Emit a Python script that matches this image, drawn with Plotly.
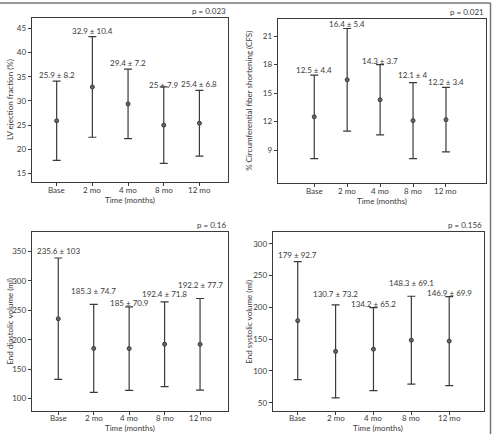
import plotly.graph_objects as go

categories = ["Base", "2 mo", "4 mo", "8 mo", "12 mo"]

lvef_mean = [25.9, 32.9, 29.4, 25.0, 25.4]
lvef_sd = [8.2, 10.4, 7.2, 7.9, 6.8]

cfs_mean = [12.5, 16.4, 14.3, 12.1, 12.2]
cfs_sd = [4.4, 5.4, 3.7, 4.0, 3.4]

edv_mean = [235.6, 185.3, 185.0, 192.4, 192.2]
edv_sd = [103.0, 74.7, 70.9, 71.8, 77.7]

esv_mean = [179.0, 130.7, 134.2, 148.3, 146.9]
esv_sd = [92.7, 73.2, 65.2, 69.1, 69.9]

p_values = ["p = 0.023", "p = 0.021", "p = 0.16", "p = 0.156"]
y_titles = ["LV ejection fraction (%)", "% Circumferential fiber shortening (CFS)",
            "End diastolic volume (ml)", "End systolic volume (ml)"]
x_title = "Time (months)"

W, H = 492, 434

panels = [
    dict(mean=lvef_mean, sd=lvef_sd, xd=[0.0644, 0.4634], yd=[0.5813, 0.9578],
         xr=[-0.70, 4.80], yr=[13.3, 47.1], ticks=[15, 20, 25, 30, 35, 40, 45],
         shift=[6, 6, 6, 2, 6], tl_shift=-8.5, xt_shift=-18, ytx=10),
    dict(mean=cfs_mean, sd=cfs_sd, xd=[0.5644, 0.9868], yd=[0.579, 0.9562],
         xr=[-1.11, 5.2], yr=[5.56, 22.8], ticks=[9, 12, 15, 18, 21],
         shift=[5, 5, 4, 8, 5], tl_shift=-8.5, xt_shift=-18, ytx=249),
    dict(mean=edv_mean, sd=edv_sd, xd=[0.0644, 0.4628], yd=[0.0523, 0.4654],
         xr=[-0.75, 4.78], yr=[78.6, 382.7], ticks=[100, 150, 200, 250, 300, 350],
         shift=[7, 13, 4, 8, 14], tl_shift=-7, xt_shift=-16.5, ytx=10),
    dict(mean=esv_mean, sd=esv_sd, xd=[0.5543, 0.9831], yd=[0.0523, 0.4654],
         xr=[-0.66, 4.91], yr=[36.5, 318.4], ticks=[50, 100, 150, 200, 250, 300],
         shift=[7, 11, 4, 13, 4], tl_shift=-7, xt_shift=-16.5, ytx=249),
]

FONT = "Lato"
INK = "#3a3a3a"
xs = list(range(len(categories)))

fig = go.Figure()
annotations = []
layout = dict(
    width=W, height=H, margin=dict(l=0, r=0, t=0, b=0),
    paper_bgcolor="white", plot_bgcolor="white", showlegend=False,
    font=dict(family=FONT, size=8, color=INK),
)

for k, p in enumerate(panels):
    n = "" if k == 0 else str(k + 1)
    fig.add_trace(go.Scatter(
        x=xs, y=p["mean"], mode="markers",
        marker=dict(size=4, color="#666666", line=dict(color=INK, width=1)),
        error_y=dict(type="data", array=p["sd"], visible=True, color=INK,
                     thickness=1.2, width=4),
        xaxis="x" + n, yaxis="y" + n, cliponaxis=False,
    ))
    layout["xaxis" + n] = dict(
        domain=p["xd"], range=p["xr"], anchor="y" + n,
        tickvals=xs, ticks="outside", ticklen=3, showticklabels=False,
        tickcolor=INK, showline=True, linecolor=INK, linewidth=1, mirror=True,
        showgrid=False, zeroline=False,
    )
    layout["yaxis" + n] = dict(
        domain=p["yd"], range=p["yr"], anchor="x" + n,
        tickvals=p["ticks"], ticks="outside", ticklen=3, tickcolor=INK,
        showline=True, linecolor=INK, linewidth=1, mirror=True,
        showgrid=False, zeroline=False, tickfont=dict(size=8),
    )
    for i in xs:
        annotations.append(dict(
            x=i, y=p["mean"][i] + p["sd"][i], xref="x" + n, yref="y" + n,
            text=f"{p['mean'][i]:g} ± {p['sd'][i]:g}", showarrow=False,
            yanchor="middle", xanchor="center", yshift=p["shift"][i],
            font=dict(size=8, color=INK),
        ))
        annotations.append(dict(
            x=i, y=0, xref="x" + n, yref=f"y{n} domain", text=categories[i],
            showarrow=False, yanchor="middle", xanchor="center", borderpad=0,
            yshift=p["tl_shift"], font=dict(size=8, color=INK),
        ))
    annotations.append(dict(
        x=1, y=1, xref=f"x{n} domain", yref=f"y{n} domain", text=p_values[k],
        showarrow=False, xanchor="right", yanchor="bottom", yshift=0,
        font=dict(size=8, color=INK),
    ))
    annotations.append(dict(
        x=0.5, y=0, xref=f"x{n} domain", yref=f"y{n} domain", text=x_title,
        showarrow=False, xanchor="center", yanchor="middle", borderpad=0,
        yshift=p["xt_shift"], font=dict(size=8, color=INK),
    ))
    annotations.append(dict(
        x=p["ytx"] / W, y=(p["yd"][0] + p["yd"][1]) / 2, xref="paper", yref="paper",
        text=y_titles[k], textangle=-90, showarrow=False,
        xanchor="center", yanchor="middle", font=dict(size=8, color=INK),
    ))

layout["annotations"] = annotations
layout["shapes"] = [
    dict(type="line", xref="paper", yref="paper", x0=0, x1=0.997, y0=1 - 3 / H,
         y1=1 - 3 / H, line=dict(color="#777777", width=1.5)),
    dict(type="line", xref="paper", yref="paper", x0=0.997, x1=0.997, y0=0,
         y1=1 - 3 / H, line=dict(color="#777777", width=1.5)),
]
fig.update_layout(**layout)
fig.write_html("out.html")
